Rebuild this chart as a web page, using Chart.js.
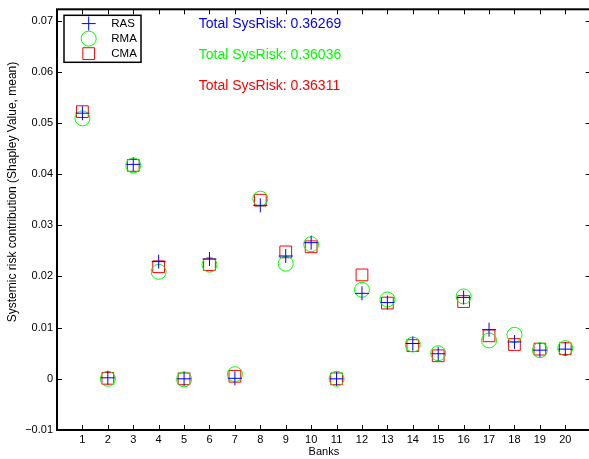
<!DOCTYPE html>
<html><head><meta charset="utf-8">
<script src="https://cdn.jsdelivr.net/npm/chart.js@4.4.0/dist/chart.umd.min.js"></script>
<style>html,body{margin:0;padding:0;background:#fff;overflow:hidden;}#wrap{width:589px;height:459px;overflow:hidden;position:relative;}canvas{display:block;}</style>
</head><body>
<div id="wrap"><canvas id="c" width="600" height="459"></canvas></div>
<script>
const banks = [1,2,3,4,5,6,7,8,9,10,11,12,13,14,15,16,17,18,19,20];
const ras = [0.0519,0.0002,0.0419,0.0229,0.0000,0.0234,0.0001,0.0339,0.0240,0.0266,0.0000,0.0167,0.0149,0.0069,0.0049,0.0159,0.0096,0.0072,0.0056,0.0058];
const rma = [0.0509,0.0000,0.0417,0.0209,-0.0001,0.0223,0.0009,0.0352,0.0225,0.0263,0.0000,0.0174,0.0155,0.0067,0.0050,0.0161,0.0075,0.0086,0.0056,0.0060];
const cma = [0.0522,0.0001,0.0417,0.0219,0.0000,0.0223,0.0005,0.0349,0.0248,0.0258,0.0000,0.0203,0.0148,0.0065,0.0045,0.0151,0.0084,0.0067,0.0058,0.0059];
const seriesNames = ['RAS','RMA','CMA'];
const totalSysRisk = [0.36269, 0.36036, 0.36311];
const yTicks = [-0.01,0,0.01,0.02,0.03,0.04,0.05,0.06,0.07];
const yTickLabels = ['\u22120.01','0','0.01','0.02','0.03','0.04','0.05','0.06','0.07'];
const xTickLabels = banks.map(String);
const yTitle = 'Systemic risk contribution (Shapley Value, mean)';
const xTitle = 'Banks';

const FONT = '"Liberation Sans", Arial, Helvetica, sans-serif';
Chart.defaults.font.family = FONT;
Chart.defaults.color = '#000';

const colors = ['#0000ff','#00ff00','#ff0000'];
const styles = ['cross','circle','rect'];
const radii = [7,7.5,8.3];

function drawMarker(ctx, style, r, x, y, color){
  ctx.save();
  ctx.strokeStyle = color; ctx.lineWidth = 1;
  ctx.beginPath();
  if(style==='cross'){ ctx.moveTo(x-r,y); ctx.lineTo(x+r,y); ctx.moveTo(x,y-r); ctx.lineTo(x,y+r); }
  else if(style==='circle'){ ctx.arc(x,y,r,0,Math.PI*2); }
  else { const s=Math.SQRT1_2*r; ctx.rect(x-s,y-s,2*s,2*s); }
  ctx.stroke();
  ctx.restore();
}

const framePlugin = {
  id:'frame',
  afterDraw(chart){
    const ctx = chart.ctx, a = chart.chartArea, xs = chart.scales.x, ys = chart.scales.y;
    ctx.save();
    ctx.strokeStyle = '#000'; ctx.lineWidth = 1;
    ctx.beginPath();
    banks.forEach(b=>{
      const px = Math.round(xs.getPixelForValue(b))+0.5;
      ctx.moveTo(px,a.bottom); ctx.lineTo(px,a.bottom-5);
      ctx.moveTo(px,a.top); ctx.lineTo(px,a.top+5);
    });
    yTicks.forEach(v=>{
      const py = Math.round(ys.getPixelForValue(v))+0.5;
      ctx.moveTo(a.left,py); ctx.lineTo(a.left+5,py);
      ctx.moveTo(a.right,py); ctx.lineTo(a.right-5,py);
    });
    ctx.stroke();
    ctx.lineWidth = 2;
    ctx.strokeRect(a.left, a.top, a.right-a.left, a.bottom-a.top);

    // y title
    ctx.save();
    ctx.font = '12px ' + FONT;
    ctx.fillStyle = '#000';
    ctx.textAlign = 'center'; ctx.textBaseline = 'middle';
    ctx.translate(13, 192);
    ctx.rotate(-Math.PI/2);
    ctx.fillText(yTitle, 0, 0);
    ctx.restore();

    // legend
    const lx = a.left+7, ly = a.top+6, lw = 77, lh = 47;
    ctx.fillStyle = '#fff';
    ctx.fillRect(lx, ly, lw, lh);
    ctx.lineWidth = 1.5; ctx.strokeStyle = '#000';
    ctx.strokeRect(lx, ly, lw, lh);
    ctx.font = '11.5px ' + FONT;
    ctx.textBaseline = 'middle'; ctx.textAlign = 'left';
    chart.data.datasets.forEach((ds,i)=>{
      const yy = ly + 8.3 + i*15;
      drawMarker(ctx, ds.pointStyle, ds.pointRadius, lx+24.7, yy, ds.borderColor);
      ctx.fillStyle = '#000';
      ctx.fillText(ds.label, lx+47.3, yy+0.5);
    });

    // totals
    ctx.font = '14px ' + FONT;
    const annY = [0.0693, 0.0632, 0.0571];
    totalSysRisk.forEach((v,i)=>{
      ctx.fillStyle = colors[i];
      ctx.fillText('Total SysRisk: ' + v.toFixed(5), xs.getPixelForValue(5.58), ys.getPixelForValue(annY[i]));
    });
    ctx.restore();
  }
};

const series = [ras, rma, cma];
new Chart(document.getElementById('c'), {
  type: 'scatter',
  data: {
    datasets: series.map((s,i)=>({
      label: seriesNames[i],
      data: banks.map((b,j)=>({x:b, y:s[j]})),
      pointStyle: styles[i],
      pointRadius: radii[i],
      pointHoverRadius: radii[i],
      borderColor: colors[i],
      backgroundColor: 'rgba(0,0,0,0)',
      borderWidth: 1,
      showLine: false
    }))
  },
  options: {
    responsive: false,
    animation: false,
    events: [],
    devicePixelRatio: 1,
    layout: { padding: { top: 7, right: 6, left: 0, bottom: 0 } },
    plugins: { legend: { display: false }, tooltip: { enabled: false } },
    scales: {
      x: {
        type: 'linear', min: 0, max: 21,
        afterBuildTicks: s => { s.ticks = banks.map(v=>({value:v})); },
        afterFit: s => { s.height = 29; s.paddingLeft = 0; s.paddingRight = 0; },
        grid: { display: false, drawTicks: false },
        border: { display: false },
        ticks: { font: { size: 11 }, padding: 3, maxRotation: 0, autoSkip: false,
                 callback: (v,i) => xTickLabels[i] },
        title: { display: true, text: xTitle, font: { size: 11 }, padding: 0 }
      },
      y: {
        type: 'linear', min: -0.01, max: 0.0722,
        afterBuildTicks: s => { s.ticks = yTicks.map(v=>({value:v})); },
        afterFit: s => { s.width = 57; s.paddingTop = 0; s.paddingBottom = 0; },
        grid: { display: false, drawTicks: false },
        border: { display: false },
        ticks: { font: { size: 11 }, padding: 4, autoSkip: false,
                 callback: (v,i) => yTickLabels[i] }
      }
    }
  },
  plugins: [framePlugin]
});
</script>
</body></html>
